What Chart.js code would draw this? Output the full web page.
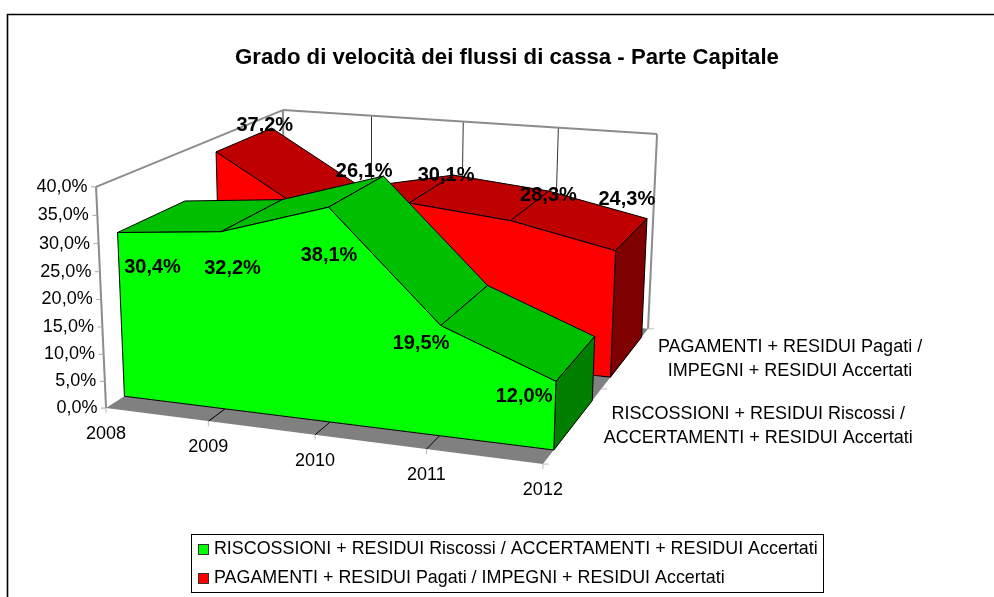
<!DOCTYPE html>
<html><head><meta charset="utf-8">
<style>html,body{margin:0;padding:0;background:#fff}canvas{display:block}</style>
<script src="https://cdn.jsdelivr.net/npm/chart.js@4/dist/chart.umd.min.js"></script>
</head><body>
<canvas id="c" width="994" height="597"></canvas>
<script>
const categories = ['2008','2009','2010','2011','2012'];
const seriesFront = 'RISCOSSIONI + RESIDUI Riscossi / ACCERTAMENTI + RESIDUI Accertati';
const seriesBack = 'PAGAMENTI + RESIDUI Pagati / IMPEGNI + RESIDUI Accertati';
const depthLabelFront = ['RISCOSSIONI + RESIDUI Riscossi /','ACCERTAMENTI + RESIDUI Accertati'];
const depthLabelBack = ['PAGAMENTI + RESIDUI Pagati /','IMPEGNI + RESIDUI Accertati'];
const valuesFront = [30.4,32.2,38.1,19.5,12.0];
const valuesBack = [37.2,26.1,30.1,28.3,24.3];
const chartTitle = 'Grado di velocità dei flussi di cassa - Parte Capitale';

// 3D layout: depth bands of each series (0 = front of the box, 1 = back)
const bandFront = [0.085,0.415];
const bandBack = [0.59,0.925];
// camera: where six corners of the box [cat, depth, value] land on the page
const boxCorners = [
 [0,0,0,106,408],[1,0,0,543,464],[1,1,0,648,329],
 [0,0,1,96,187],[1,1,1,657,134],[0,1,1,283,110]
];
// manual label placement, px from the top-centre of each band
const nudgeFront = [[0,51],[-20,53],[-28,64],[-44,39],[-52,38]];
const nudgeBack = [[20,-14],[27,-29],[14,-13],[18,-10],[-5,-35]];

function solveCamera(pts){
  const rows=[],rhs=[];
  for(const [u,v,w,x,y] of pts){
    rows.push([1,u,v,w,0,0,0,0,-x*u,-x*v,-x*w]);rhs.push(x);
    rows.push([0,0,0,0,1,u,v,w,-y*u,-y*v,-y*w]);rhs.push(y);
  }
  const n=11,A=[];
  for(let i=0;i<n;i++){A[i]=[];for(let j=0;j<=n;j++){let s=0;
    rows.forEach((r,k)=>{s+=r[i]*(j<n?r[j]:rhs[k]);});A[i][j]=s;}}
  for(let i=0;i<n;i++){let p=i;for(let k=i+1;k<n;k++)if(Math.abs(A[k][i])>Math.abs(A[p][i]))p=k;
    [A[i],A[p]]=[A[p],A[i]];
    for(let k=0;k<n;k++){if(k===i)continue;const f=A[k][i]/A[i][i];for(let j=i;j<=n;j++)A[k][j]-=f*A[i][j];}}
  return A.map((r,i)=>r[n]/r[i]);
}
const H=solveCamera(boxCorners);
function project(u,v,w){
  const d=1+H[8]*u+H[9]*v+H[10]*w;
  return [(H[0]+H[1]*u+H[2]*v+H[3]*w)/d,(H[4]+H[5]*u+H[6]*v+H[7]*w)/d];
}
const FONT='"Liberation Sans", Arial, sans-serif';
function poly(ctx,pts,fill,stroke){
  ctx.beginPath();pts.forEach((p,i)=>i?ctx.lineTo(p[0],p[1]):ctx.moveTo(p[0],p[1]));ctx.closePath();
  if(fill){ctx.fillStyle=fill;ctx.fill();}
  if(stroke){ctx.strokeStyle=stroke;ctx.lineWidth=1;ctx.stroke();}
}
function line(ctx,a,b,col,lw){ctx.beginPath();ctx.moveTo(a[0],a[1]);ctx.lineTo(b[0],b[1]);ctx.strokeStyle=col;ctx.lineWidth=lw;ctx.stroke();}
function norm(chart,pt){const a=chart.chartArea;return [(pt.x-a.left)/(a.right-a.left),(a.bottom-pt.y)/(a.bottom-a.top)];}

function drawBand(ctx,chart,idx,band,cols){
  const pts=chart.getDatasetMeta(idx).data.map(p=>norm(chart,p));
  const front=pts.map(p=>project(p[0],band[0],p[1]));
  const back=pts.map(p=>project(p[0],band[1],p[1]));
  for(let i=0;i<pts.length-1;i++) poly(ctx,[front[i],front[i+1],back[i+1],back[i]],cols.top,'#000');
  const L=pts.length-1;
  poly(ctx,[front[L],back[L],project(pts[L][0],band[1],0),project(pts[L][0],band[0],0)],cols.side,'#000');
  const face=front.slice();face.push(project(pts[L][0],band[0],0),project(pts[0][0],band[0],0));
  poly(ctx,face,cols.face,'#000');
}
function drawValueLabels(ctx,chart,idx,band,nudges,values){
  const pts=chart.getDatasetMeta(idx).data.map(p=>norm(chart,p));
  const vm=(band[0]+band[1])/2;
  ctx.font='bold 20px '+FONT;ctx.fillStyle='#000';ctx.textAlign='center';ctx.textBaseline='middle';
  pts.forEach((p,i)=>{const q=project(p[0],vm,p[1]);
    ctx.fillText(values[i].toFixed(1).replace('.',',')+'%',q[0]+nudges[i][0],q[1]+nudges[i][1]);});
}
const box3d={id:'box3d',
  beforeDatasetsDraw(chart){
    const ctx=chart.ctx;ctx.save();
    // outer frame
    ctx.beginPath();ctx.moveTo(7.5,597);ctx.lineTo(7.5,14.5);ctx.lineTo(994,14.5);ctx.strokeStyle='#000';ctx.lineWidth=1.6;ctx.stroke();
    const A=project(0,0,0),B=project(1,0,0),C=project(1,1,0),G=project(0,1,0),
          D=project(0,0,1),E=project(1,1,1),F=project(0,1,1);
    poly(ctx,[A,B,C,G],'#808080');
    const xs=chart.scales.x,ys=chart.scales.y,a=chart.chartArea;
    const us=categories.map((_,i)=>(xs.getPixelForValue(i)-a.left)/(a.right-a.left));
    us.slice(1,-1).forEach(u=>{line(ctx,project(u,0,0),project(u,1,0),'#000',1);line(ctx,project(u,1,0),project(u,1,1),'#333',1);});
    [[A,D],[D,F],[F,E],[E,C],[F,G]].forEach(s=>line(ctx,s[0],s[1],'#8c8c8c',2));
    // value axis
    ctx.font='18px '+FONT;ctx.fillStyle='#000';ctx.textBaseline='middle';ctx.textAlign='right';
    ys.ticks.forEach(t=>{const w=(a.bottom-ys.getPixelForValue(t.value))/(a.bottom-a.top);
      const p=project(0,0,w);line(ctx,p,[p[0]-5,p[1]],'#aaa',1);
      ctx.fillText(t.value.toFixed(1).replace('.',',')+'%',p[0]-8.5,p[1]);});
    // category axis
    ctx.textAlign='center';
    us.forEach((u,i)=>{const p=project(u,0,0);line(ctx,p,[p[0],p[1]+5],'#bbb',1);ctx.fillText(categories[i],p[0],p[1]+26);});
    // depth axis
    [0,0.5,1].forEach(v=>{const p=project(1,v,0);line(ctx,p,[p[0]+6,p[1]],'#bbb',1);});
    [[0.25,depthLabelFront,30],[0.75,depthLabelBack,32]].forEach(([v,lines,gap])=>{
      const p=project(1,v,0);const wid=Math.max(...lines.map(s=>ctx.measureText(s).width));
      lines.forEach((s,i)=>ctx.fillText(s,p[0]+gap+wid/2,p[1]+2+(i-0.5)*24));});
    drawBand(ctx,chart,1,bandBack,{top:'#BF0000',side:'#7F0000',face:'#FF0000'});
    drawBand(ctx,chart,0,bandFront,{top:'#00BF00',side:'#007F00',face:'#00FF00'});
    ctx.restore();
  },
  afterDatasetsDraw(chart){
    const ctx=chart.ctx;ctx.save();
    drawValueLabels(ctx,chart,1,bandBack,nudgeBack,valuesBack);
    drawValueLabels(ctx,chart,0,bandFront,nudgeFront,valuesFront);
    ctx.restore();
  },
  afterDraw(chart){
    const ctx=chart.ctx,hb=chart.legend.legendHitBoxes;ctx.save();
    const h0=hb[0],h1=hb[1];
    ctx.strokeStyle='#000';ctx.lineWidth=1;
    ctx.strokeRect(Math.round(h0.left-7)+0.5,Math.round(h0.top-6)+0.5,Math.round(h0.width+12),Math.round(h1.top+h1.height-h0.top+11));
    chart.legend.legendItems.forEach((it,i)=>{const h=hb[i];
      ctx.fillStyle='#fff';ctx.fillRect(h.left-1,h.top+1,14,h.height-2);
      ctx.fillStyle=it.fillStyle;ctx.strokeStyle='#333';
      const y=Math.round(h.top+h.height/2-5.5);
      ctx.fillRect(Math.round(h.left),y,11,11);ctx.strokeRect(Math.round(h.left)+.5,y+.5,10,10);});
    ctx.restore();
  }
};
Chart.register(box3d);
new Chart(document.getElementById('c'),{
  type:'line',
  data:{labels:categories,datasets:[
    {label:seriesFront,data:valuesFront,backgroundColor:'#00FF00',borderColor:'#333',borderWidth:1,showLine:false,pointRadius:0},
    {label:seriesBack,data:valuesBack,backgroundColor:'#FF0000',borderColor:'#333',borderWidth:1,showLine:false,pointRadius:0}
  ]},
  options:{responsive:false,animation:false,
    layout:{padding:{left:187,right:167,top:0,bottom:0}},
    scales:{x:{display:false,type:'category',offset:false},
            y:{display:false,min:0,max:40,ticks:{stepSize:5}}},
    plugins:{
      title:{display:true,text:chartTitle,color:'#000',font:{family:FONT,size:22.2,weight:'bold'},padding:{top:45,bottom:9}},
      tooltip:{enabled:false},
      legend:{display:true,position:'bottom',align:'start',
        labels:{boxWidth:7,boxHeight:7,padding:11,color:'#000',font:{family:FONT,size:17.9}}}
    }}
});
</script>
</body></html>
